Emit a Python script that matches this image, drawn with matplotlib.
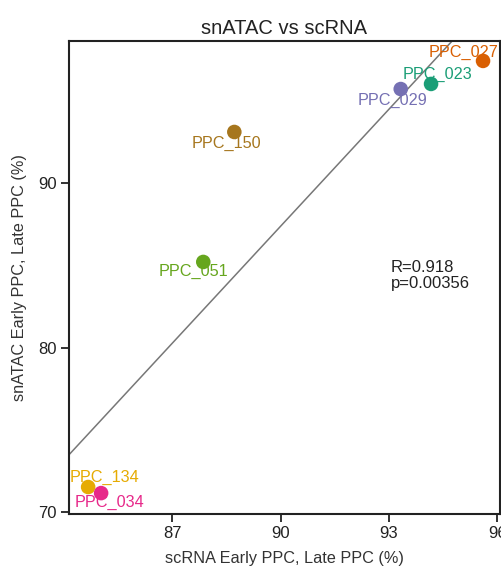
import numpy as np
import matplotlib
matplotlib.use("Agg")
import matplotlib.pyplot as plt

plt.rcParams['font.family'] = ['Liberation Sans', 'DejaVu Sans']

samples = ["PPC_027", "PPC_023", "PPC_029", "PPC_150", "PPC_051", "PPC_134", "PPC_034"]
scrna = [95.61, 94.17, 93.33, 88.72, 87.86, 84.67, 85.03]
snatac = [97.42, 96.02, 95.71, 93.10, 85.20, 71.52, 71.15]
colors = ["#d95f02", "#1b9e77", "#7570b3", "#a6761d", "#66a61e", "#e6ab02", "#e7298a"]
# label offsets in points (dx, dy)
label_offsets = [(-14, 6), (5, 7), (-6, -8), (-6, -8), (-7, -7), (12, 7), (6, -7)]
x_ticks = [87, 90, 93, 96]
y_ticks = [70, 80, 90]
stat_text = "R=0.918\np=0.00356"

fig = plt.figure(figsize=(5.02, 5.71), dpi=100)
ax = fig.add_axes([69/502, 1-514/571, (500-69)/502, (514-41)/571])

xlim = (84.14, 96.08)
ylim = (69.88, 98.63)

slope, intercept = np.polyfit(scrna, snatac, 1)
xs = np.array(xlim)
ax.plot(xs, slope*xs + intercept, color="#777777", lw=1.1, zorder=1)

ax.scatter(scrna, snatac, s=110, c=colors, zorder=5, edgecolors='none')
for name, x, y, c, (dx, dy) in zip(samples, scrna, snatac, colors, label_offsets):
    ax.annotate(name, (x, y), xytext=(dx, dy), textcoords="offset points",
                ha="center", va="center", color=c, fontsize=11.7, zorder=4)

ax.text(93.05, 85.3, stat_text, fontsize=12, ha="left", va="top", color="#222222", linespacing=1.08)

ax.set_xlim(*xlim)
ax.set_ylim(*ylim)
ax.set_xticks(x_ticks)
ax.set_yticks(y_ticks)
ax.tick_params(axis='both', direction='out', length=6, width=1.3, labelsize=12, colors='#222222', pad=3)
for s in ax.spines.values():
    s.set_linewidth(1.5)
    s.set_color('#222222')

ax.set_title("snATAC vs scRNA", fontsize=14.5, color="#222222", pad=5)
ax.set_xlabel("scRNA Early PPC, Late PPC (%)", fontsize=11.7, color="#333333", labelpad=7)
ax.set_ylabel("snATAC Early PPC, Late PPC (%)", fontsize=11.7, color="#333333", labelpad=8)

fig.savefig("out.png", dpi=100)
